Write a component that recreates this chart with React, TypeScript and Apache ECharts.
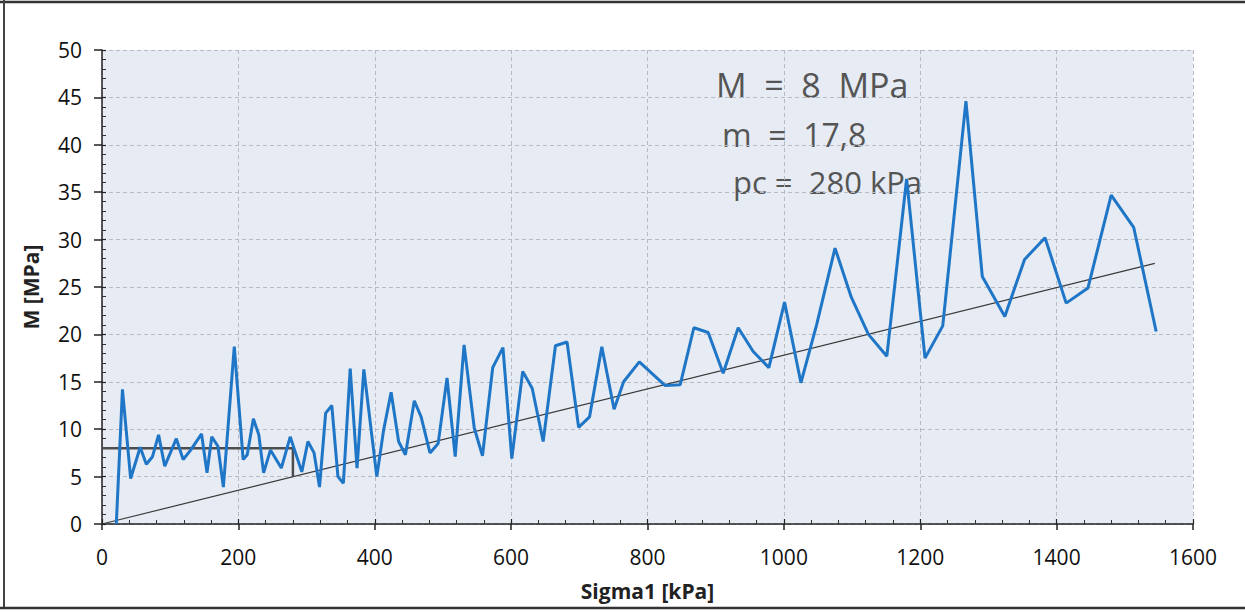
import React, { useEffect, useRef } from "react";
import * as echarts from "echarts";

const sigma = [21,30,42,56,65,74,83,92,109,119,130,146,154,161,170,178,194,207,213,222,230,237,247,263,276,293,302,311,319,328,337,346,354,364,374,384,403,413,424,435,445,458,468,481,493,506,518,531,546,558,573,588,601,617,631,647,665,682,699,715,733,751,765,788,826,848,868,889,911,933,955,978,1001,1025,1048,1075,1099,1124,1151,1180,1207,1233,1267,1291,1324,1353,1383,1414,1446,1480,1513,1546];
const modulus = [0,14.2,4.8,8.1,6.3,7.1,9.4,6.1,9.0,6.8,7.8,9.5,5.4,9.2,8.2,3.9,18.7,6.8,7.3,11.1,9.4,5.4,7.8,5.9,9.2,5.5,8.7,7.5,3.9,11.7,12.5,5.0,4.3,16.4,5.9,16.3,5.0,9.9,13.9,8.7,7.3,13.0,11.3,7.5,8.5,15.4,7.1,18.9,10.1,7.2,16.5,18.6,6.9,16.1,14.3,8.7,18.8,19.2,10.2,11.3,18.7,12.1,15.0,17.1,14.6,14.7,20.7,20.2,15.9,20.7,18.2,16.5,23.4,14.9,21.0,29.1,23.9,20.0,17.7,36.4,17.5,20.9,44.6,26.1,21.9,27.9,30.2,23.3,24.9,34.7,31.3,20.3];

const constX = [0, 280, 280];
const constY = [8, 8, 4.98];

const trendX = [0, 1544];
const trendY = [0, 27.5];

const xTicks = ["0","200","400","600","800","1000","1200","1400","1600"];
const yTicks = ["0","5","10","15","20","25","30","35","40","45","50"];

const notes = ["M  =  8  MPa", "m  =  17,8", "pc =  280 kPa"];

const FONT = "'Open Sans', 'Noto Sans', sans-serif";

export default function App() {
  const ref = useRef<HTMLDivElement>(null);
  useEffect(() => {
    document.body.style.margin = "0";
    const chart = echarts.init(ref.current!, undefined, { renderer: "svg" });
    const blue = sigma.map((s, i) => [s, modulus[i]]);
    const cst = constX.map((s, i) => [s, constY[i]]);
    const tr = trendX.map((s, i) => [s, trendY[i]]);
    const gridLeft = 102;
    const gridRight = 1245 - 1193;
    const gridTop = 50;
    const gridBottom = 612 - 524;
    const commonX = { type: "value", min: 0, max: 1600, interval: 200 };
    const commonY = { type: "value", min: 0, max: 50, interval: 5 };
    chart.setOption({
      animation: false,
      backgroundColor: "#ffffff",
      grid: {
        left: gridLeft, right: gridRight, top: gridTop, bottom: gridBottom,
        show: true, backgroundColor: "#e6ebf4", borderWidth: 0,
      },
      xAxis: [
        {
          ...commonX,
          name: "Sigma1 [kPa]",
          nameLocation: "middle",
          nameGap: 56,
          nameTextStyle: { fontFamily: FONT, fontSize: 21, fontWeight: "bold", color: "#222" },
          axisLine: { show: true, lineStyle: { color: "#222", width: 1.5 } },
          axisTick: { show: true, inside: false, length: 6, lineStyle: { color: "#222", width: 1.5 } },
          axisLabel: {
            fontFamily: FONT, fontSize: 21, color: "#111", margin: 22,
            formatter: (v: number) => xTicks[Math.round(v / 200)] ?? "",
          },
          splitLine: { show: true, lineStyle: { color: "#b6bac2", type: [4, 3], width: 1 } },
        },
        {
          ...commonX,
          position: "bottom",
          axisLine: { show: false },
          axisTick: { show: true, inside: true, length: 5, lineStyle: { color: "#222", width: 1.2 } },
          minorTick: { show: true, splitNumber: 5, length: 4, lineStyle: { color: "#333", width: 1 } },
          axisLabel: { show: false },
          splitLine: { show: false },
        },
      ],
      yAxis: [
        {
          ...commonY,
          name: "M [MPa]",
          nameLocation: "middle",
          nameGap: 61,
          nameTextStyle: { fontFamily: FONT, fontSize: 21, fontWeight: "bold", color: "#222" },
          axisLine: { show: true, lineStyle: { color: "#222", width: 1.5 } },
          axisTick: { show: true, inside: false, length: 8, lineStyle: { color: "#222", width: 1.5 } },
          axisLabel: {
            fontFamily: FONT, fontSize: 21, color: "#111", margin: 20,
            formatter: (v: number) => yTicks[Math.round(v / 5)] ?? "",
          },
          splitLine: { show: true, lineStyle: { color: "#b6bac2", type: [4, 3], width: 1 } },
        },
        {
          ...commonY,
          position: "left",
          axisLine: { show: false },
          axisTick: { show: true, inside: true, length: 4, lineStyle: { color: "#222", width: 1.2 } },
          minorTick: { show: true, splitNumber: 5, length: 4, lineStyle: { color: "#333", width: 1 } },
          axisLabel: { show: false },
          splitLine: { show: false },
        },
      ],
      series: [
        {
          type: "line",
          data: tr,
          showSymbol: false,
          lineStyle: { color: "#3a3a3a", width: 1.2 },
          z: 2,
        },
        {
          type: "line",
          data: cst,
          showSymbol: false,
          lineStyle: { color: "#4d4d4d", width: 2.5 },
          z: 3,
        },
        {
          type: "line",
          data: blue,
          showSymbol: false,
          lineStyle: { color: "#1f76c6", width: 3 },
          z: 4,
        },
      ],
      graphic: [
        { type: "line", shape: { x1: 0, y1: 2, x2: 1245, y2: 2 }, style: { stroke: "#333", lineWidth: 2.5 } },
        { type: "line", shape: { x1: 4, y1: 0, x2: 4, y2: 608 }, style: { stroke: "#444", lineWidth: 2 } },
        { type: "line", shape: { x1: 0, y1: 608, x2: 1245, y2: 608 }, style: { stroke: "#333", lineWidth: 2.5 } },
        { type: "text", x: 716, y: 85, style: { text: notes[0], font: `34px ${FONT}`, fill: "#555", verticalAlign: "middle" } },
        { type: "text", x: 722, y: 134, style: { text: notes[1], font: `32px ${FONT}`, fill: "#555", verticalAlign: "middle" } },
        { type: "text", x: 733, y: 182, style: { text: notes[2], font: `31px ${FONT}`, fill: "#555", verticalAlign: "middle" } },
      ],
    });
    return () => chart.dispose();
  }, []);
  return <div ref={ref} style={{ width: 1245, height: 612 }} />;
}
